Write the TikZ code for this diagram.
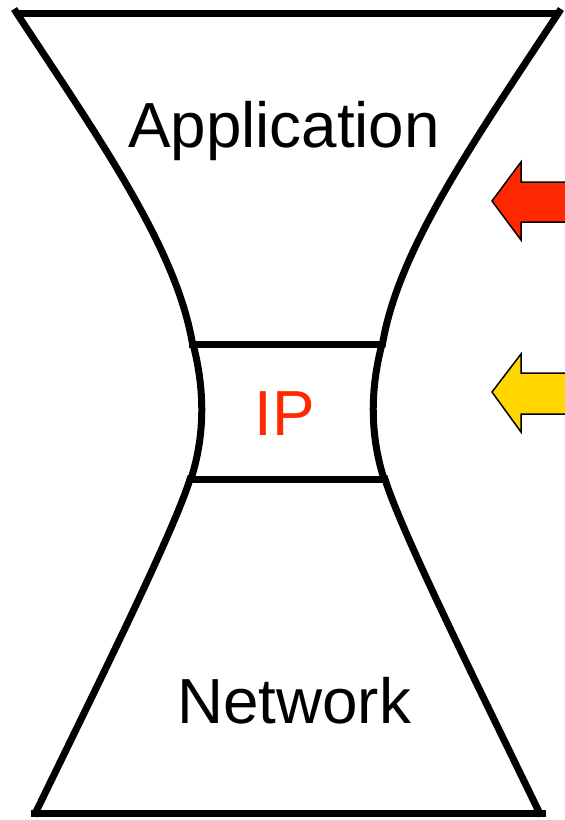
\documentclass[tikz,border=0pt]{standalone}
\usepackage{fontspec}
\setmainfont{Liberation Sans}
\definecolor{ipred}{RGB}{255,40,0}
\definecolor{arrowyellow}{RGB}{255,214,0}
\begin{document}
\begin{tikzpicture}[x=1bp,y=-1bp,
  outline/.style={line width=7bp, black},
  fatarrow/.style={draw=black, line width=1.5bp, line join=miter},
  label/.style={font=\fontsize{64}{64}\selectfont, inner sep=0pt, anchor=center}]
\useasboundingbox (0,0) rectangle (565,820);
\clip (0,0) rectangle (565,820);
% horizontal bars
\draw[outline] (15,14) -- (560,14);
\draw[outline] (31,813) -- (546,813);
\draw[outline] (189,344) -- (384,344);
\draw[outline] (189,479) -- (386,479);
% upper sides
\draw[outline] (14,9) .. controls (100,140) and (178,250) .. (193,347);
\draw[outline] (561,9) .. controls (475,140) and (397,250) .. (382,347);
% IP sides
\draw[outline] (193,344) .. controls (205,390) and (205,435) .. (191,479);
\draw[outline] (382,344) .. controls (370,390) and (370,435) .. (384,479);
% lower sides
\draw[outline] (191,476) .. controls (175,530) and (95,690) .. (34,816);
\draw[outline] (384,476) .. controls (400,530) and (480,690) .. (541,816);
% labels
\node[label] (app) at (284,131) {Application};
\node[label, text=ipred] (ip) at (285,414) {IP};
\node[label] (net) at (294,701) {Network};
% arrows
\draw[fatarrow, fill=ipred] (492,201) -- (521,162) -- (521,182) -- (575,182) -- (575,222) -- (521,222) -- (521,240) -- cycle;
\draw[fatarrow, fill=arrowyellow] (492,392) -- (521,354) -- (521,373) -- (575,373) -- (575,414) -- (521,414) -- (521,432) -- cycle;
\end{tikzpicture}
\end{document}
